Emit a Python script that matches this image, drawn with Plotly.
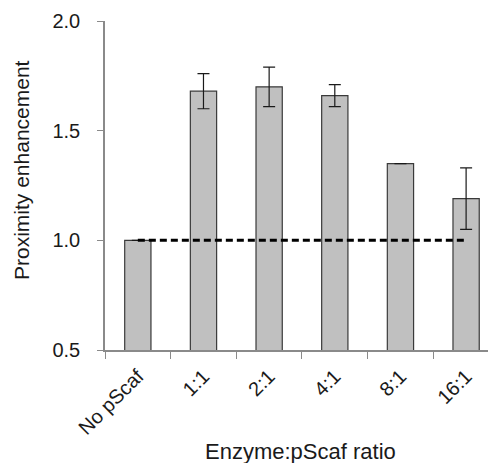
import plotly.graph_objects as go

categories = ["No pScaf", "1:1", "2:1", "4:1", "8:1", "16:1"]
values = [1.0, 1.68, 1.70, 1.66, 1.35, 1.19]
errors = [0.0, 0.08, 0.09, 0.05, 0.0, 0.14]
baseline_x = ["No pScaf", "16:1"]
baseline_y = [1.0, 1.0]
y_ticks = [0.5, 1.0, 1.5, 2.0]
y_ticklabels = ["0.5", "1.0", "1.5", "2.0"]
x_title = "Enzyme:pScaf ratio"
y_title = "Proximity enhancement"

font_family = "Liberation Sans, Arial, sans-serif"

# page body has an 8px margin, so the figure is offset by 8px
OFF = 8
W, H = 496 - OFF, 463 - OFF
L, T, PW, PH = 105 - OFF, 21 - OFF, 390, 329
R = W - L - PW
B = H - T - PH

fig = go.Figure()
fig.add_trace(go.Bar(
    x=categories, y=values, width=0.4,
    marker=dict(color="#c0c0c0", line=dict(color="#3a3a3a", width=1.2)),
    error_y=dict(type="data", array=[e if e > 0 else None for e in errors],
                 visible=True, color="#1a1a1a", thickness=1.2, width=6),
    showlegend=False,
))
fig.add_trace(go.Scatter(
    x=baseline_x, y=baseline_y, mode="lines",
    line=dict(color="black", width=3, dash="7px,4px"),
    showlegend=False,
))

fig.update_layout(
    width=W, height=H,
    margin=dict(l=L, r=R, t=T, b=B, autoexpand=False),
    plot_bgcolor="white", paper_bgcolor="white",
    font=dict(family=font_family, color="#1a1a1a", size=20),
    xaxis=dict(
        type="category", range=[-0.5, 5.44],
        showline=True, linecolor="#8a8a8a", linewidth=1.5,
        ticks="outside", tickson="boundaries", ticklen=7, tickcolor="#8a8a8a",
        tickangle=-45, tickfont=dict(size=20), ticklabelstandoff=5,
        showgrid=False, zeroline=False, automargin=False,
    ),
    yaxis=dict(
        range=[0.5, 2.0],
        tickvals=y_ticks, ticktext=y_ticklabels,
        showline=True, linecolor="#8a8a8a", linewidth=1.5,
        ticks="outside", ticklen=6, tickcolor="#8a8a8a",
        tickfont=dict(size=20), ticklabelstandoff=13,
        showgrid=False, zeroline=False, automargin=False,
    ),
    annotations=[
        dict(text=x_title, xref="paper", yref="paper", x=(300 - 105) / PW,
             y=-(451 - 350) / PH, xanchor="center", yanchor="middle",
             showarrow=False, font=dict(size=22)),
        dict(text=y_title, xref="paper", yref="paper", x=(21 - 105) / PW,
             y=(350 - 170) / PH, xanchor="center", yanchor="middle",
             textangle=-90, showarrow=False, font=dict(size=21)),
    ],
)

fig.write_html("out.html")
